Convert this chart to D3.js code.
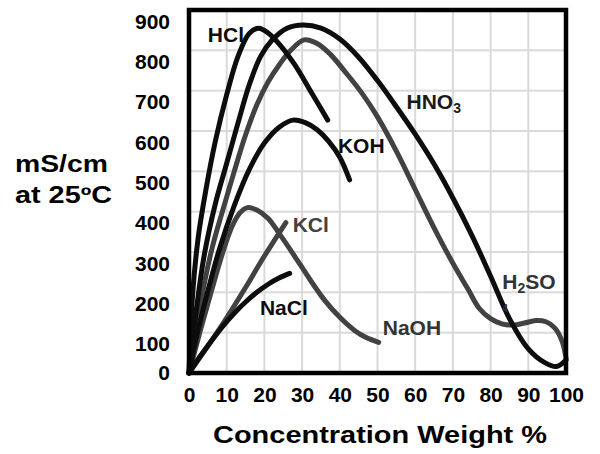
<!DOCTYPE html>
<html><head><meta charset="utf-8">
<script src="https://cdn.jsdelivr.net/npm/d3@7"></script>
<style>
body{margin:0;background:#fff}
text{font-family:"Liberation Sans",Arial,Helvetica,sans-serif;font-weight:bold}
</style>
</head><body>
<svg id="c" width="600" height="454"></svg>
<script>
// ---- data ----
const xTicks = [0,10,20,30,40,50,60,70,80,90,100];
const yTicks = [0,100,200,300,400,500,600,700,800,900];

const hclX = [0,1,2.5,4.5,7,10,13,16,18.5,21,24,28,32.5,36.8];
const hclY = [0,200,340,455,575,690,785,842,855,843,815,765,695,627];

const hno3X = [0,2,4,7,10,13,16,19,22,26,30.3,35,40,45,50,55,60,65,70,75,80,85,90,94.5,97.5,100];
const hno3Y = [0,160,290,420,520,620,715,785,825,855,863,855,828,783,725,660,592,518,434,342,240,135,60,25,16,32];

const h2so4X = [0,3,6,9,12,15,18,21,24,27,30.5,34,37.5,42,46,50,55,60,65,70,74,77,80,83,86,89,92,94.7,97,99,100];
const h2so4Y = [0,170,305,405,500,590,665,722,765,800,826,817,790,740,692,635,550,455,360,272,208,160,135,122,119,124,130,127,112,78,36];

const kohX = [0,2,4.5,8,12,16,20,24,27.6,31,34,37,40,42.6];
const kohY = [0,90,185,305,415,505,570,610,627,620,603,575,535,479];

const naohX = [0,3,6,9,11.5,13.5,15.5,18,21,24,28,32,36,40,44,47,50.3];
const naohY = [0,105,205,300,365,397,410,404,383,345,290,233,180,138,105,88,76];

const kclX = [0,5,10,15,20,25.7];
const kclY = [0,67,137,212,290,373];

const naclX = [0,3,6,9,12,15,18,21,24,26.7];
const naclY = [0,42,80,116,148,176,200,220,236,247];

// ---- styles ----
const BLACK = "#0d0d0d", GRAY = "#424242", GRID = "#dadada";
const series = [
  {x:h2so4X, y:h2so4Y, c:GRAY},
  {x:naohX, y:naohY, c:GRAY},
  {x:kclX, y:kclY, c:GRAY},
  {x:naclX, y:naclY, c:BLACK},
  {x:kohX, y:kohY, c:BLACK},
  {x:hno3X, y:hno3Y, c:BLACK},
  {x:hclX, y:hclY, c:BLACK}
];

const svg = d3.select("#c");
const xs = d3.scaleLinear().domain([0,100]).range([189,566]);
const ys = d3.scaleLinear().domain([0,900]).range([373,10]);

// grid: thin filled rects (robust against stroke rendering issues)
const gridG = svg.append("g");
gridG.selectAll("rect.vx").data(xTicks.slice(1, -1)).join("rect").attr("class","vx")
  .attr("x", v => xs(v) - 1).attr("y", ys(900)).attr("width", 2).attr("height", ys(0) - ys(900))
  .attr("fill", GRID);
gridG.selectAll("rect.hy").data(yTicks.slice(1)).join("rect").attr("class","hy")
  .attr("x", xs(0)).attr("y", v => ys(v) - 1).attr("width", xs(100) - xs(0)).attr("height", 2)
  .attr("fill", GRID);

// curves
const line = d3.line().x(d=>xs(d[0])).y(d=>ys(d[1])).curve(d3.curveCatmullRom.alpha(0.5));
series.forEach(s=>{
  svg.append("path").datum(s.x.map((v,i)=>[v,s.y[i]]))
    .attr("d",line).attr("fill","none").attr("stroke",s.c)
    .attr("stroke-width",5).attr("stroke-linecap","round").attr("stroke-linejoin","round");
});

// frame
svg.append("rect").attr("x",xs(0)).attr("y",ys(900)).attr("width",xs(100)-xs(0)).attr("height",ys(0)-ys(900))
  .attr("fill","none").attr("stroke","#000").attr("stroke-width",4.5);

// axes labels
const xa = svg.append("g").attr("transform",`translate(0,${ys(0)})`)
  .call(d3.axisBottom(xs).tickValues(xTicks).tickSize(0).tickPadding(0).tickFormat(d3.format("d")));
xa.select(".domain").remove();
xa.selectAll("text").attr("y",28.5).attr("dy",0).attr("font-size",21).attr("fill","#000")
  .style("font-family",'"Liberation Sans",Arial,sans-serif').style("font-weight","bold");

const ya = svg.append("g").attr("transform",`translate(170,0)`)
  .call(d3.axisLeft(ys).tickValues(yTicks).tickSize(0).tickPadding(0).tickFormat(d3.format("d")));
ya.select(".domain").remove();
ya.selectAll("text").attr("x",0).attr("y",d=>d===0?-1:10.5).attr("dy","0.36em")
  .attr("font-size",21).attr("fill","#000")
  .style("font-family",'"Liberation Sans",Arial,sans-serif').style("font-weight","bold");

// titles
svg.append("text").attr("x",213).attr("y",443).attr("font-size",24)
  .attr("textLength",334).attr("lengthAdjust","spacingAndGlyphs").text("Concentration Weight %");
svg.append("text").attr("x",15).attr("y",172).attr("font-size",23)
  .attr("textLength",93).attr("lengthAdjust","spacingAndGlyphs").text("mS/cm");
svg.append("text").attr("x",15).attr("y",203).attr("font-size",23)
  .attr("textLength",97).attr("lengthAdjust","spacingAndGlyphs").text("at 25ºC");

// curve labels (positions in data units)
const lab = (dx,dy,c)=>svg.append("text").attr("x",xs(dx)).attr("y",ys(dy)).attr("font-size",21).attr("fill",c);
lab(5.0,821,BLACK).text("HCl");
lab(39.5,545,BLACK).text("KOH");
lab(27.5,350,GRAY).text("KCl");
lab(18.8,144,BLACK).text("NaCl");
lab(51.4,94,"#333").text("NaOH");
const hn = lab(57.7,654,"#1a1a1a");
hn.append("tspan").text("HNO");
hn.append("tspan").attr("font-size",14).attr("dy",4).text("3");
const hs = lab(83.1,208,"#333");
hs.append("tspan").text("H");
hs.append("tspan").attr("font-size",14).attr("dy",4).text("2");
hs.append("tspan").attr("dy",-4).text("SO");
lab(83.1,152,"#333").attr("font-size",10).text("4");
</script>
</body></html>
